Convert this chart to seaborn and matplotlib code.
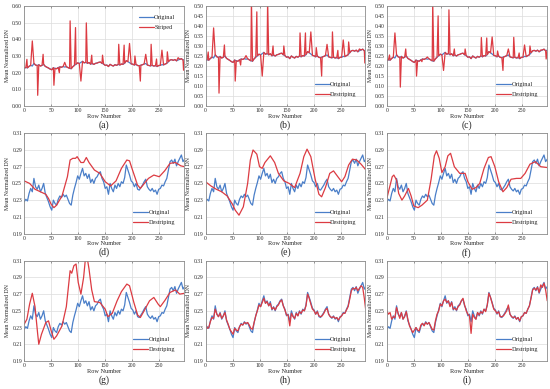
import numpy as np
import pandas as pd
import matplotlib
matplotlib.use('Agg')
import matplotlib.pyplot as plt
import seaborn as sns

# ---- data (row index sampled every 3 rows) ----
rows = list(range(0, 300, 3))

original = [0.228, 0.231, 0.229, 0.238, 0.244, 0.240, 0.256, 0.246, 0.243, 0.248,
            0.240, 0.244, 0.250, 0.238, 0.233, 0.228, 0.222, 0.218, 0.230, 0.226,
            0.224, 0.231, 0.235, 0.233, 0.237, 0.234, 0.236, 0.231, 0.226, 0.224,
            0.236, 0.244, 0.251, 0.259, 0.255, 0.262, 0.268, 0.259, 0.262, 0.256,
            0.261, 0.251, 0.255, 0.250, 0.256, 0.258, 0.262, 0.264, 0.256, 0.252,
            0.244, 0.246, 0.237, 0.250, 0.244, 0.240, 0.248, 0.244, 0.250, 0.246,
            0.252, 0.250, 0.257, 0.272, 0.266, 0.260, 0.253, 0.251, 0.246, 0.250,
            0.243, 0.242, 0.245, 0.248, 0.252, 0.255, 0.246, 0.243, 0.241, 0.244,
            0.240, 0.242, 0.237, 0.243, 0.244, 0.248, 0.247, 0.252, 0.256, 0.266,
            0.276, 0.278, 0.274, 0.279, 0.271, 0.276, 0.280, 0.284, 0.276, 0.279]

# stripe rows and spike values for panels (a)-(c)
stripe_rows = [5, 15, 25, 35, 55, 65, 75, 85, 95, 105, 115, 125, 145, 175, 185,
               195, 205, 215, 225, 235, 245, 255, 265, 285, 295]
striped_a = [0.280, 0.390, 0.065, 0.310, 0.125, 0.200, 0.262, 0.510, 0.470, 0.150,
             0.498, 0.305, 0.305, 0.370, 0.365, 0.375, 0.300, 0.150, 0.310, 0.370,
             0.282, 0.335, 0.325, 0.290, 0.215]
destriped_b = [0.270, 0.390, 0.065, 0.305, 0.125, 0.205, 0.252, 0.530, 0.470, 0.150,
               0.530, 0.300, 0.300, 0.365, 0.365, 0.370, 0.292, 0.150, 0.308, 0.370,
               0.278, 0.330, 0.320, 0.285, 0.215]
destriped_c = [0.255, 0.365, 0.095, 0.285, 0.150, 0.222, 0.245, 0.520, 0.450, 0.178,
               0.480, 0.285, 0.285, 0.342, 0.340, 0.345, 0.275, 0.178, 0.285, 0.343,
               0.265, 0.305, 0.300, 0.280, 0.235]

# smooth destriping results (row, value)
rows_d = [0, 10, 20, 30, 40, 45, 50, 55, 60, 70, 80, 85, 90, 95, 98, 105, 110, 115,
          120, 130, 140, 150, 160, 170, 180, 190, 195, 200, 210, 215, 220, 230, 240,
          250, 260, 270, 280, 290, 297]
vals_d = [0.253, 0.250, 0.243, 0.240, 0.237, 0.232, 0.225, 0.221, 0.224, 0.235,
          0.258, 0.278, 0.280, 0.280, 0.282, 0.275, 0.275, 0.281, 0.275, 0.266,
          0.262, 0.252, 0.247, 0.253, 0.268, 0.278, 0.277, 0.267, 0.248, 0.244,
          0.248, 0.256, 0.260, 0.258, 0.265, 0.274, 0.275, 0.271, 0.270]

rows_e = [0, 10, 20, 30, 40, 50, 55, 62, 70, 78, 83, 88, 95, 100, 105, 110, 120, 128,
          135, 145, 155, 165, 175, 182, 188, 195, 203, 210, 215, 222, 230, 237, 245,
          252, 258, 265, 272, 280, 288, 297]
vals_e = [0.252, 0.247, 0.243, 0.240, 0.235, 0.225, 0.218, 0.212, 0.222, 0.250,
          0.278, 0.290, 0.285, 0.270, 0.268, 0.275, 0.283, 0.275, 0.262, 0.253,
          0.250, 0.245, 0.262, 0.282, 0.291, 0.282, 0.255, 0.237, 0.234, 0.245,
          0.262, 0.265, 0.258, 0.252, 0.258, 0.272, 0.279, 0.278, 0.273, 0.266]

rows_f = [0, 5, 10, 13, 18, 22, 28, 33, 40, 45, 50, 58, 65, 75, 82, 88, 92, 97, 102,
          108, 113, 118, 125, 135, 145, 150, 158, 165, 172, 180, 188, 193, 200, 207,
          215, 222, 230, 240, 248, 256, 265, 275, 285, 297]
vals_f = [0.232, 0.245, 0.258, 0.260, 0.254, 0.238, 0.230, 0.235, 0.244, 0.235,
          0.223, 0.221, 0.224, 0.230, 0.255, 0.283, 0.289, 0.280, 0.263, 0.270,
          0.283, 0.286, 0.270, 0.262, 0.262, 0.252, 0.243, 0.245, 0.250, 0.268,
          0.281, 0.282, 0.270, 0.252, 0.240, 0.245, 0.255, 0.256, 0.256, 0.262,
          0.273, 0.276, 0.270, 0.269]

rows_g = [0, 5, 10, 15, 20, 25, 27, 32, 40, 45, 50, 55, 60, 70, 78, 85, 88, 92, 96,
          100, 105, 110, 113, 116, 120, 125, 130, 140, 150, 155, 163, 172, 180, 190,
          195, 203, 210, 215, 222, 232, 240, 248, 252, 260, 270, 280, 288, 297]
vals_g = [0.234, 0.240, 0.258, 0.271, 0.255, 0.222, 0.210, 0.222, 0.236, 0.238,
          0.226, 0.216, 0.220, 0.232, 0.255, 0.298, 0.295, 0.304, 0.306, 0.284,
          0.270, 0.290, 0.310, 0.316, 0.300, 0.275, 0.261, 0.260, 0.252, 0.243,
          0.247, 0.262, 0.273, 0.282, 0.280, 0.260, 0.245, 0.242, 0.250, 0.262,
          0.266, 0.258, 0.255, 0.262, 0.272, 0.275, 0.270, 0.271]

destriped_h = [0.236, 0.229, 0.230, 0.237, 0.242, 0.241, 0.252, 0.246, 0.243, 0.247,
               0.241, 0.244, 0.248, 0.239, 0.234, 0.228, 0.225, 0.222, 0.229, 0.227,
               0.226, 0.231, 0.234, 0.233, 0.236, 0.235, 0.236, 0.233, 0.229, 0.228,
               0.236, 0.244, 0.250, 0.257, 0.255, 0.260, 0.265, 0.259, 0.261, 0.256,
               0.259, 0.252, 0.254, 0.251, 0.255, 0.257, 0.261, 0.263, 0.256, 0.251,
               0.245, 0.245, 0.232, 0.247, 0.243, 0.241, 0.247, 0.244, 0.249, 0.247,
               0.251, 0.250, 0.256, 0.270, 0.265, 0.258, 0.252, 0.250, 0.246, 0.249,
               0.244, 0.243, 0.244, 0.247, 0.251, 0.253, 0.246, 0.243, 0.242, 0.243,
               0.241, 0.242, 0.239, 0.242, 0.244, 0.247, 0.247, 0.251, 0.255, 0.264,
               0.274, 0.277, 0.276, 0.278, 0.274, 0.277, 0.280, 0.278, 0.265, 0.249]

destriped_i = [0.250, 0.246, 0.248, 0.240, 0.243, 0.242, 0.254, 0.247, 0.241, 0.248,
               0.240, 0.243, 0.249, 0.240, 0.232, 0.228, 0.224, 0.227, 0.230, 0.227,
               0.226, 0.233, 0.235, 0.232, 0.236, 0.234, 0.236, 0.232, 0.228, 0.227,
               0.238, 0.246, 0.250, 0.258, 0.256, 0.262, 0.264, 0.260, 0.262, 0.255,
               0.260, 0.252, 0.253, 0.251, 0.255, 0.257, 0.262, 0.265, 0.257, 0.250,
               0.246, 0.244, 0.223, 0.246, 0.242, 0.240, 0.248, 0.245, 0.249, 0.247,
               0.252, 0.249, 0.257, 0.271, 0.266, 0.259, 0.252, 0.250, 0.247, 0.249,
               0.243, 0.243, 0.244, 0.247, 0.250, 0.257, 0.246, 0.243, 0.242, 0.243,
               0.240, 0.242, 0.238, 0.243, 0.244, 0.248, 0.247, 0.252, 0.256, 0.265,
               0.275, 0.277, 0.275, 0.278, 0.272, 0.281, 0.278, 0.283, 0.275, 0.262]

captions = ['(a)', '(b)', '(c)', '(d)', '(e)', '(f)', '(g)', '(h)', '(i)']

BLUE = '#4a7ec8'
RED = '#dc3b42'


def with_spikes(spike_rows, spike_vals):
    """merge spike rows into the original sampled series (spike wins)"""
    s = pd.Series(original, index=rows)
    s = s.drop([r for r in spike_rows if r in s.index])
    s = pd.concat([s, pd.Series(spike_vals, index=spike_rows)]).sort_index()
    return s.index.values, s.values


sns.set_style('whitegrid')
plt.rcParams['font.family'] = ['Liberation Serif', 'DejaVu Serif']

fig, axes = plt.subplots(3, 3, figsize=(5.5, 3.89), dpi=100)
fig.subplots_adjust(left=0.044, right=0.994, top=0.985, bottom=0.072,
                    wspace=0.134, hspace=0.27)

red_series = []
x, y = with_spikes(stripe_rows, striped_a); red_series.append((x, y, 'Striped'))
x, y = with_spikes(stripe_rows, destriped_b); red_series.append((x, y, 'Destriping'))
x, y = with_spikes(stripe_rows, destriped_c); red_series.append((x, y, 'Destriping'))
red_series.append((rows_d, vals_d, 'Destriping'))
red_series.append((rows_e, vals_e, 'Destriping'))
red_series.append((rows_f, vals_f, 'Destriping'))
red_series.append((rows_g, vals_g, 'Destriping'))
red_series.append((rows, destriped_h, 'Destriping'))
red_series.append((rows, destriped_i, 'Destriping'))

fmt = matplotlib.ticker.FormatStrFormatter('%.2f')

for k, ax in enumerate(axes.flat):
    rx, ry, rlab = red_series[k]
    sns.lineplot(x=rows, y=original, ax=ax, color=BLUE, linewidth=0.9,
                 label='Original', estimator=None)
    sns.lineplot(x=rx, y=ry, ax=ax, color=RED, linewidth=0.9,
                 label=rlab, estimator=None)

    ax.set_xlim(0, 296)
    ax.set_xticks([0, 50, 100, 150, 200, 250])
    if k == 0:
        ax.set_ylim(0, 0.6)
        ax.set_yticks(np.arange(0, 0.61, 0.1))
        loc = 'upper right'
    elif k < 3:
        ax.set_ylim(0, 0.5)
        ax.set_yticks(np.arange(0, 0.51, 0.05))
        loc = 'lower right'
    else:
        ax.set_ylim(0.19, 0.31)
        ax.set_yticks(np.arange(0.19, 0.311, 0.02))
        loc = 'lower right'
    ax.yaxis.set_major_formatter(fmt)

    # legend entries spaced apart, no frame
    handles, labels = ax.get_legend_handles_labels()
    ax.legend(handles, labels, loc=loc, frameon=False, fontsize=4.5,
              labelspacing=0.75, handlelength=2.4, handletextpad=0.1,
              borderaxespad=1.0)

    ax.tick_params(labelsize=4, length=0, pad=1.5)
    ax.tick_params(axis='x', which='major', bottom=True, top=True, direction='in',
                   length=1.5, width=0.5, color='#707070')
    ax.set_xlabel('Row Number', fontsize=4.5, labelpad=0.5)
    ax.set_ylabel('Mean Normalized DN', fontsize=4.2, labelpad=1.5)
    ax.grid(True, color='#dcdcdc', linewidth=0.5)
    for sp in ax.spines.values():
        sp.set_color('#8c8c8c')
        sp.set_linewidth(0.6)
    ax.text(0.5, -0.19, captions[k], transform=ax.transAxes,
            ha='center', va='center', fontsize=7)

fig.savefig('out.png', dpi=100)
